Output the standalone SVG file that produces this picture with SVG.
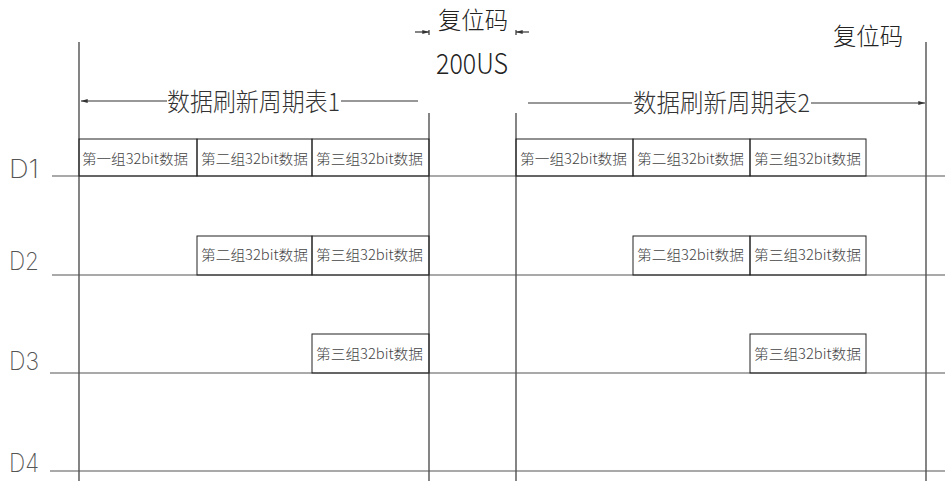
<svg xmlns="http://www.w3.org/2000/svg" width="945" height="481" viewBox="0 0 945 481">
<defs>
<marker id="ah" viewBox="0 0 10 6" refX="10" refY="3" markerWidth="7" markerHeight="4" markerUnits="userSpaceOnUse" orient="auto">
<path d="M0,0 L10,3 L0,6 Z" fill="#333"/>
</marker>
<style>
.ln{stroke:#333;stroke-width:1.2;fill:none}
.dl{stroke:#555;stroke-width:1.2;fill:none}
.bx{stroke:#222;stroke-width:1;fill:none}
.bt{font-family:"Noto Sans CJK SC","Noto Sans",sans-serif;font-size:14px;font-weight:300;fill:#444}
.tt{font-family:"Noto Sans CJK SC","Noto Sans",sans-serif;font-weight:300;fill:#333}
.rt{font-family:"Noto Sans CJK SC","Noto Sans",sans-serif;font-weight:300;fill:#222}
.dt{font-family:"Inter","Roboto","DejaVu Sans",sans-serif;font-size:25px;font-weight:200;fill:#555}
</style>
</defs>
<rect width="945" height="481" fill="#fff"/>

<g id="labels">
<text class="rt" x="438" y="29" font-size="24" textLength="70" lengthAdjust="spacingAndGlyphs">复位码</text>
<text class="rt" x="436" y="74" font-size="28" textLength="72" lengthAdjust="spacingAndGlyphs">200US</text>
<text class="rt" x="833" y="45" font-size="24" textLength="70" lengthAdjust="spacingAndGlyphs">复位码</text>
<text class="tt" x="167" y="111" font-size="25" textLength="173" lengthAdjust="spacingAndGlyphs">数据刷新周期表1</text>
<text class="tt" x="633" y="112" font-size="25" textLength="177" lengthAdjust="spacingAndGlyphs">数据刷新周期表2</text>
<text class="dt" x="9" y="178" textLength="30" lengthAdjust="spacingAndGlyphs">D1</text>
<text class="dt" x="9" y="270" textLength="30" lengthAdjust="spacingAndGlyphs">D2</text>
<text class="dt" x="9" y="370" textLength="30" lengthAdjust="spacingAndGlyphs">D3</text>
<text class="dt" x="9" y="472" textLength="30" lengthAdjust="spacingAndGlyphs">D4</text>
</g>

<g id="connectors">
<line class="ln" x1="79" y1="42" x2="79" y2="481"/>
<line class="ln" x1="429" y1="113" x2="429" y2="481"/>
<line class="ln" x1="516" y1="113" x2="516" y2="481"/>
<line class="ln" x1="926" y1="42" x2="926" y2="481"/>
<line class="dl" x1="52" y1="176" x2="945" y2="176"/>
<line class="dl" x1="52" y1="275" x2="945" y2="275"/>
<line class="dl" x1="50" y1="373" x2="945" y2="373"/>
<line class="dl" x1="50" y1="471" x2="945" y2="471"/>
<line class="ln" x1="167" y1="101" x2="81" y2="101" marker-end="url(#ah)"/>
<line class="ln" x1="341" y1="101" x2="418" y2="101"/>
<line class="ln" x1="528" y1="103" x2="632" y2="103"/>
<line class="ln" x1="811" y1="103" x2="925" y2="103" marker-end="url(#ah)"/>
<line class="ln" x1="415" y1="32" x2="429" y2="32" marker-end="url(#ah)"/>
<line class="ln" x1="429" y1="30" x2="429" y2="35"/>
<line class="ln" x1="529" y1="32" x2="516" y2="32" marker-end="url(#ah)"/>
<line class="ln" x1="516" y1="30" x2="516" y2="35"/>
</g>

<g id="d1-left">
<rect class="bx" x="79" y="139" width="118" height="37"/>
<text class="bt" x="82" y="164" textLength="106" lengthAdjust="spacingAndGlyphs">第一组32bit数据</text>
<rect class="bx" x="197" y="139" width="115" height="37"/>
<text class="bt" x="201" y="164" textLength="107" lengthAdjust="spacingAndGlyphs">第二组32bit数据</text>
<rect class="bx" x="312" y="139" width="117" height="37"/>
<text class="bt" x="316" y="164" textLength="107" lengthAdjust="spacingAndGlyphs">第三组32bit数据</text>
</g>
<g id="d2-left">
<rect class="bx" x="197" y="236" width="115" height="39"/>
<text class="bt" x="201" y="260" textLength="107" lengthAdjust="spacingAndGlyphs">第二组32bit数据</text>
<rect class="bx" x="312" y="236" width="117" height="39"/>
<text class="bt" x="316" y="260" textLength="107" lengthAdjust="spacingAndGlyphs">第三组32bit数据</text>
</g>
<g id="d3-left">
<rect class="bx" x="312" y="334" width="117" height="39"/>
<text class="bt" x="316" y="359" textLength="107" lengthAdjust="spacingAndGlyphs">第三组32bit数据</text>
</g>

<g id="d1-right">
<rect class="bx" x="516" y="139" width="117" height="37"/>
<text class="bt" x="520" y="164" textLength="107" lengthAdjust="spacingAndGlyphs">第一组32bit数据</text>
<rect class="bx" x="633" y="139" width="117" height="37"/>
<text class="bt" x="637" y="164" textLength="107" lengthAdjust="spacingAndGlyphs">第二组32bit数据</text>
<rect class="bx" x="750" y="139" width="116" height="37"/>
<text class="bt" x="754" y="164" textLength="107" lengthAdjust="spacingAndGlyphs">第三组32bit数据</text>
</g>
<g id="d2-right">
<rect class="bx" x="633" y="236" width="117" height="39"/>
<text class="bt" x="637" y="260" textLength="107" lengthAdjust="spacingAndGlyphs">第二组32bit数据</text>
<rect class="bx" x="750" y="236" width="116" height="39"/>
<text class="bt" x="754" y="260" textLength="107" lengthAdjust="spacingAndGlyphs">第三组32bit数据</text>
</g>
<g id="d3-right">
<rect class="bx" x="750" y="334" width="116" height="39"/>
<text class="bt" x="754" y="359" textLength="107" lengthAdjust="spacingAndGlyphs">第三组32bit数据</text>
</g>
</svg>
